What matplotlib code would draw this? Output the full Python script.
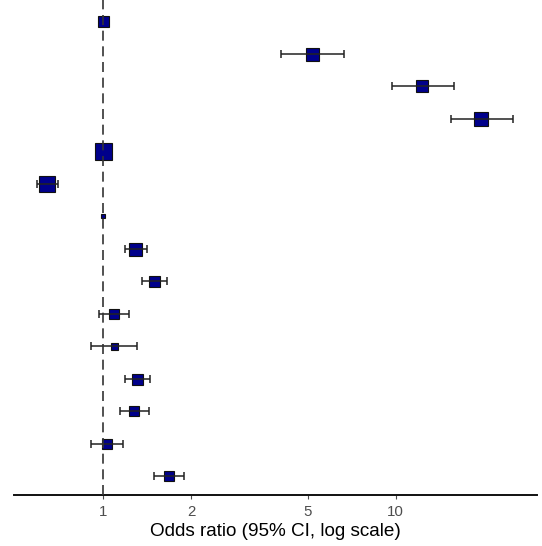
import matplotlib
matplotlib.use("Agg")
import matplotlib.pyplot as plt
import numpy as np

plt.rcParams['font.family'] = ['Liberation Sans', 'DejaVu Sans']

# Data (top row first)
odds_ratio = [1.00, 5.16, 12.3, 19.5, 1.00, 0.645, 1.00, 1.29, 1.50, 1.09, 1.09, 1.31, 1.28, 1.03, 1.68]
ci_low     = [np.nan, 4.06, 9.71, 15.4, np.nan, 0.595, np.nan, 1.19, 1.36, 0.969, 0.912, 1.19, 1.14, 0.91, 1.49]
ci_high    = [np.nan, 6.66, 15.8, 25.2, np.nan, 0.700, np.nan, 1.41, 1.65, 1.23, 1.31, 1.45, 1.44, 1.17, 1.90]
box_px     = [11, 13, 12, 14, 17, 16, 4, 13, 11, 10, 7, 11, 10, 10, 9.5]
x_ticks = [1, 2, 5, 10]
x_tick_labels = ["1", "2", "5", "10"]

W, H = 542, 546
fig = plt.figure(figsize=(W / 100, H / 100), dpi=100)
ax = fig.add_axes([14 / W, 1 - 495 / H, (537 - 14) / W, 495 / H])

n = len(odds_ratio)
y = np.arange(n)

ax.axvline(1, color='#333333', lw=1.2, ls=(0, (6, 3.4)), zorder=4)

for i in range(n):
    ax.plot(odds_ratio[i], y[i], marker='s', ls='none',
            markersize=box_px[i] * 0.72, markerfacecolor='#00008B',
            markeredgecolor='#111111', markeredgewidth=0.8, zorder=2)
    if not np.isnan(ci_low[i]):
        ax.errorbar(odds_ratio[i], y[i],
                    xerr=[[odds_ratio[i] - ci_low[i]], [ci_high[i] - odds_ratio[i]]],
                    fmt='none', ecolor='#222222', elinewidth=1.1, capsize=3.2,
                    capthick=1.1, zorder=3)

ax.set_xscale('log')
ax.set_xlim(0.497, 30.4)
ax.set_ylim(n - 1 + 0.585, -0.65)
ax.set_xticks(x_ticks)
ax.set_xticklabels(x_tick_labels)
ax.xaxis.set_minor_locator(matplotlib.ticker.NullLocator())
ax.tick_params(axis='x', colors='#4D4D4D', labelsize=10.8, length=3, width=0.8, pad=4)
ax.tick_params(axis='y', left=False, labelleft=False)
for s in ['top', 'right', 'left']:
    ax.spines[s].set_visible(False)
ax.spines['bottom'].set_linewidth(1.4)
ax.spines['bottom'].set_color('#111111')
ax.set_xlabel("Odds ratio (95% CI, log scale)", fontsize=13.6, color='black', labelpad=3)

fig.savefig("out.png", dpi=100)
